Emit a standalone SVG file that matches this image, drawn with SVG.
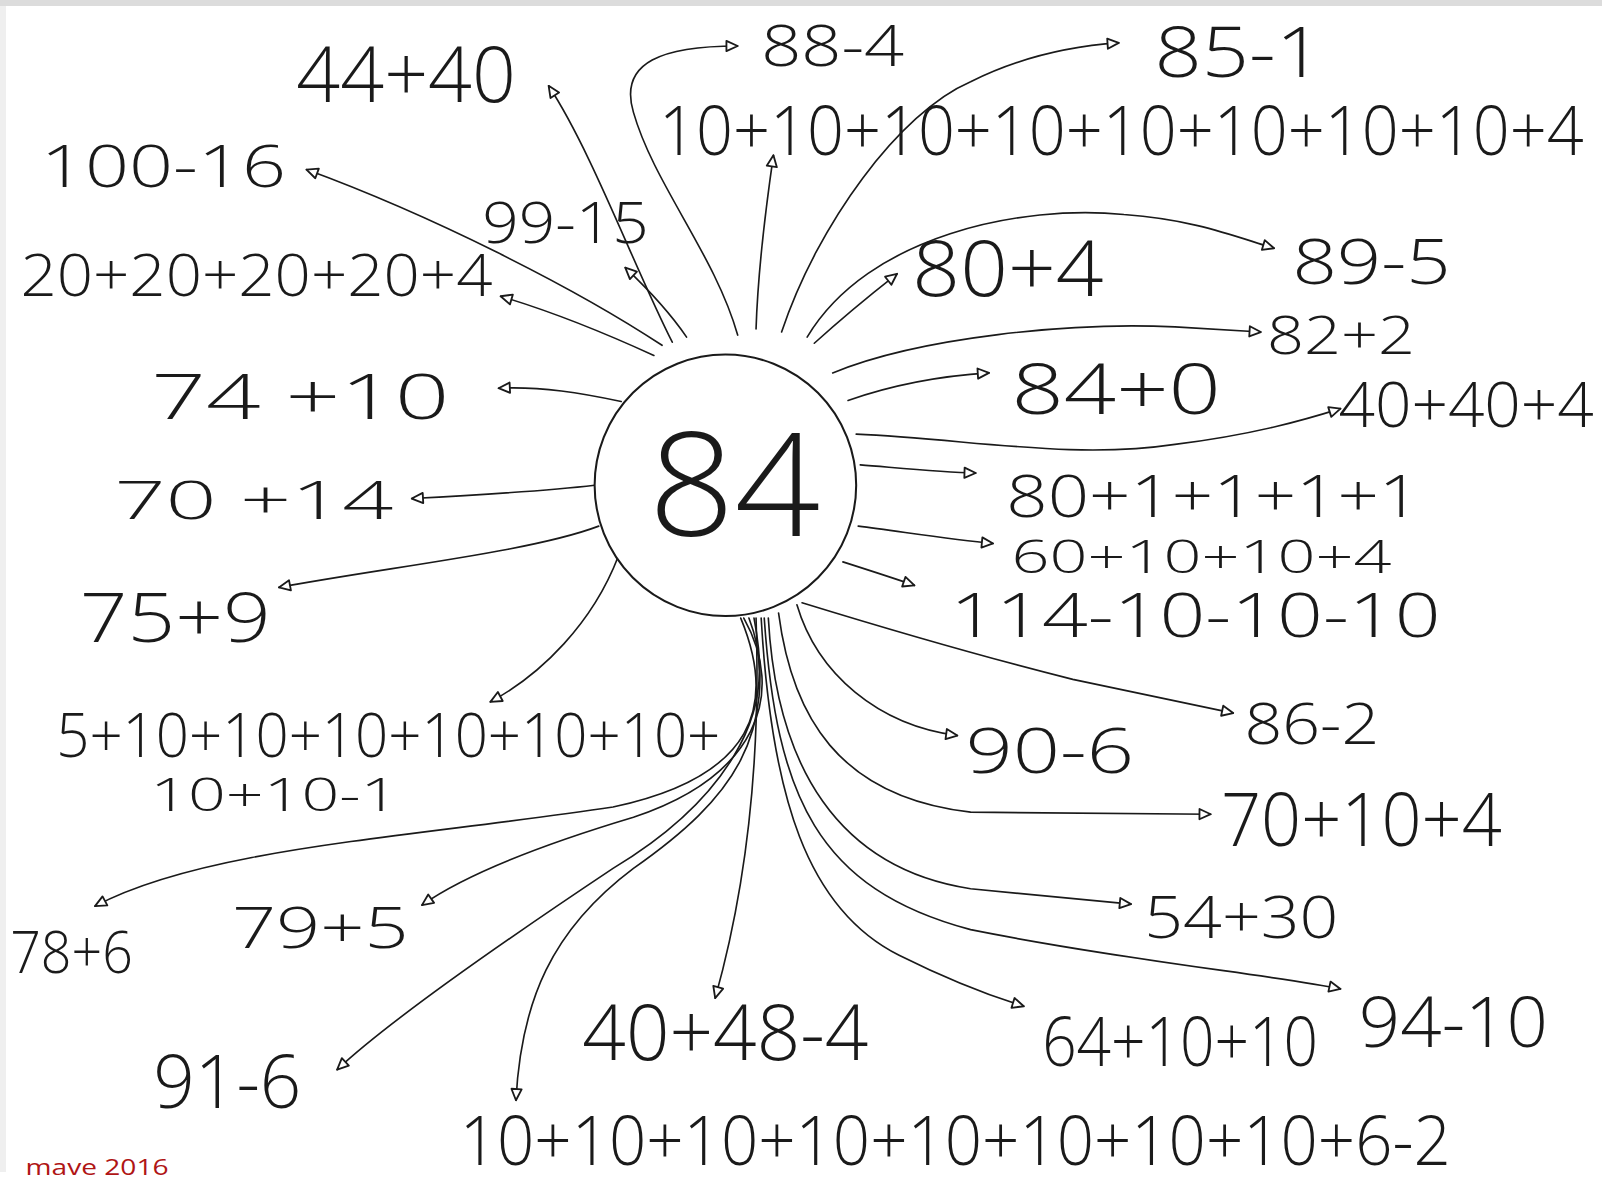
<svg xmlns="http://www.w3.org/2000/svg" width="1602" height="1183" viewBox="0 0 1602 1183">
<style>
.t{font-family:"Open Sans","DejaVu Sans",sans-serif;font-weight:300;fill:#1a1a1a}
.c{fill:none;stroke:#1a1a1a;stroke-width:1.6;stroke-linecap:round;marker-end:url(#ah)}
</style>
<defs>
<marker id="ah" markerUnits="userSpaceOnUse" markerWidth="16" markerHeight="14" refX="12" refY="7" orient="auto" overflow="visible">
<path d="M1,2 L12,7 L1,12 Z" fill="#fff" stroke="#1a1a1a" stroke-width="1.8" stroke-linejoin="round"/>
</marker>
</defs>
<rect width="1602" height="1183" fill="#fff"/>
<rect x="0" y="0" width="1602" height="6" fill="#dcdcdc"/>
<rect x="0" y="6" width="6" height="1166" fill="#efefef"/>
<g transform="scale(1.0217,1.0216)">
<g id="connectors">
<path class="c" d="M658,335 C620,260 580,150 537,84"/>
<path class="c" d="M648,338 C560,280 420,210 300,166"/>
<path class="c" d="M640,348 C590,325 540,305 490,290"/>
<path class="c" d="M672,330 C655,305 633,282 612,262"/>
<path class="c" d="M722,328 C700,250 640,180 620,110 C605,60 650,45 722,45"/>
<path class="c" d="M740,322 C742,260 750,200 757,152"/>
<path class="c" d="M765,325 C800,220 880,110 950,80 C1000,55 1050,45 1095,42"/>
<path class="c" d="M790,330 C850,230 1000,200 1100,210 C1170,215 1210,232 1247,243"/>
<path class="c" d="M797,336 C820,315 850,290 878,268"/>
<path class="c" d="M815,365 C900,330 1050,315 1150,320 L1234,325"/>
<path class="c" d="M830,392 C870,378 920,368 968,365"/>
<path class="c" d="M838,425 C950,430 1050,450 1150,435 C1230,425 1280,410 1312,400"/>
<path class="c" d="M842,455 C880,458 920,462 955,463"/>
<path class="c" d="M840,515 C880,520 930,528 972,532"/>
<path class="c" d="M825,550 C850,558 875,566 895,573"/>
<path class="c" d="M785,590 C850,610 950,640 1050,665 L1207,698"/>
<path class="c" d="M780,592 C800,660 860,710 937,720"/>
<path class="c" d="M762,600 C775,700 820,780 950,795 L1185,797"/>
<path class="c" d="M752,605 C760,750 820,850 950,870 L1107,885"/>
<path class="c" d="M748,605 C760,780 800,870 950,910 C1100,940 1250,955 1312,968"/>
<path class="c" d="M745,605 C755,780 790,890 880,935 C930,960 970,975 1002,985"/>
<path class="c" d="M740,605 C745,750 730,870 700,977"/>
<path class="c" d="M738,605 C760,720 720,780 620,850 C540,910 510,980 505,1077"/>
<path class="c" d="M733,605 C770,700 700,790 600,850 C480,930 380,1000 330,1047"/>
<path class="c" d="M728,605 C770,680 740,760 620,800 C520,830 450,860 413,886"/>
<path class="c" d="M725,605 C760,690 740,760 600,790 C400,820 200,830 93,887"/>
<path class="c" d="M605,545 C580,610 530,660 480,687"/>
<path class="c" d="M586,515 C520,540 380,555 273,575"/>
<path class="c" d="M582,475 C540,480 460,485 403,488"/>
<path class="c" d="M608,393 C570,385 530,378 488,380"/>
</g>
<g id="center">
<circle cx="710" cy="475" r="128" fill="#fff" stroke="#1a1a1a" stroke-width="2"/>
<text class="t" x="635" y="525" font-size="140" textLength="168" lengthAdjust="spacingAndGlyphs">84</text>
</g>
<g id="n-44-40"><text class="t" x="290" y="100" font-size="76" textLength="215" lengthAdjust="spacingAndGlyphs">44+40</text></g>
<g id="n-88-4"><text class="t" x="745" y="65" font-size="55" textLength="140" lengthAdjust="spacingAndGlyphs">88-4</text></g>
<g id="n-85-1"><text class="t" x="1130" y="75" font-size="69" textLength="165" lengthAdjust="spacingAndGlyphs">85-1</text></g>
<g id="n-tens"><text class="t" x="645" y="152" font-size="66" textLength="905" lengthAdjust="spacingAndGlyphs">10+10+10+10+10+10+10+10+4</text></g>
<g id="n-100-16"><text class="t" x="40" y="183" font-size="58" textLength="240" lengthAdjust="spacingAndGlyphs">100-16</text></g>
<g id="n-99-15"><text class="t" x="472" y="238" font-size="55" textLength="163" lengthAdjust="spacingAndGlyphs">99-15</text></g>
<g id="n-20s"><text class="t" x="20" y="290" font-size="58" textLength="462" lengthAdjust="spacingAndGlyphs">20+20+20+20+4</text></g>
<g id="n-80-4"><text class="t" x="893" y="290" font-size="76" textLength="187" lengthAdjust="spacingAndGlyphs">80+4</text></g>
<g id="n-89-5"><text class="t" x="1265" y="278" font-size="62" textLength="155" lengthAdjust="spacingAndGlyphs">89-5</text></g>
<g id="n-82-2"><text class="t" x="1240" y="347" font-size="52" textLength="145" lengthAdjust="spacingAndGlyphs">82+2</text></g>
<g id="n-74-10"><text class="t" x="148" y="410" font-size="62" textLength="292" lengthAdjust="spacingAndGlyphs">74 +10</text></g>
<g id="n-84-0"><text class="t" x="990" y="405" font-size="69" textLength="205" lengthAdjust="spacingAndGlyphs">84+0</text></g>
<g id="n-40-40-4"><text class="t" x="1310" y="418" font-size="62" textLength="250" lengthAdjust="spacingAndGlyphs">40+40+4</text></g>
<g id="n-70-14"><text class="t" x="112" y="508" font-size="53" textLength="273" lengthAdjust="spacingAndGlyphs">70 +14</text></g>
<g id="n-80-ones"><text class="t" x="985" y="506" font-size="58" textLength="405" lengthAdjust="spacingAndGlyphs">80+1+1+1+1</text></g>
<g id="n-60"><text class="t" x="990" y="561" font-size="45" textLength="372" lengthAdjust="spacingAndGlyphs">60+10+10+4</text></g>
<g id="n-114"><text class="t" x="930" y="624" font-size="60" textLength="480" lengthAdjust="spacingAndGlyphs">114-10-10-10</text></g>
<g id="n-75-9"><text class="t" x="78" y="628" font-size="66" textLength="187" lengthAdjust="spacingAndGlyphs">75+9</text></g>
<g id="n-5-tens">
<text class="t" x="55" y="741" font-size="60" textLength="650" lengthAdjust="spacingAndGlyphs">5+10+10+10+10+10+10+</text>
<text class="t" x="147" y="794" font-size="45" textLength="243" lengthAdjust="spacingAndGlyphs">10+10-1</text>
</g>
<g id="n-86-2"><text class="t" x="1218" y="728" font-size="55" textLength="132" lengthAdjust="spacingAndGlyphs">86-2</text></g>
<g id="n-90-6"><text class="t" x="945" y="757" font-size="62" textLength="165" lengthAdjust="spacingAndGlyphs">90-6</text></g>
<g id="n-70-10-4"><text class="t" x="1195" y="828" font-size="72" textLength="275" lengthAdjust="spacingAndGlyphs">70+10+4</text></g>
<g id="n-54-30"><text class="t" x="1120" y="918" font-size="58" textLength="190" lengthAdjust="spacingAndGlyphs">54+30</text></g>
<g id="n-78-6"><text class="t" x="10" y="952" font-size="58" textLength="120" lengthAdjust="spacingAndGlyphs">78+6</text></g>
<g id="n-79-5"><text class="t" x="227" y="928" font-size="55" textLength="173" lengthAdjust="spacingAndGlyphs">79+5</text></g>
<g id="n-94-10"><text class="t" x="1330" y="1025" font-size="69" textLength="185" lengthAdjust="spacingAndGlyphs">94-10</text></g>
<g id="n-40-48-4"><text class="t" x="570" y="1038" font-size="76" textLength="280" lengthAdjust="spacingAndGlyphs">40+48-4</text></g>
<g id="n-64"><text class="t" x="1020" y="1043" font-size="66" textLength="270" lengthAdjust="spacingAndGlyphs">64+10+10</text></g>
<g id="n-91-6"><text class="t" x="150" y="1085" font-size="72" textLength="145" lengthAdjust="spacingAndGlyphs">91-6</text></g>
<g id="n-bottom"><text class="t" x="450" y="1140" font-size="66" textLength="970" lengthAdjust="spacingAndGlyphs">10+10+10+10+10+10+10+10+6-2</text></g>
<text x="25" y="1150" font-family="'Open Sans','DejaVu Sans',sans-serif" font-size="22" fill="#b01515" textLength="140" lengthAdjust="spacingAndGlyphs">mave 2016</text>
</g>
</svg>
